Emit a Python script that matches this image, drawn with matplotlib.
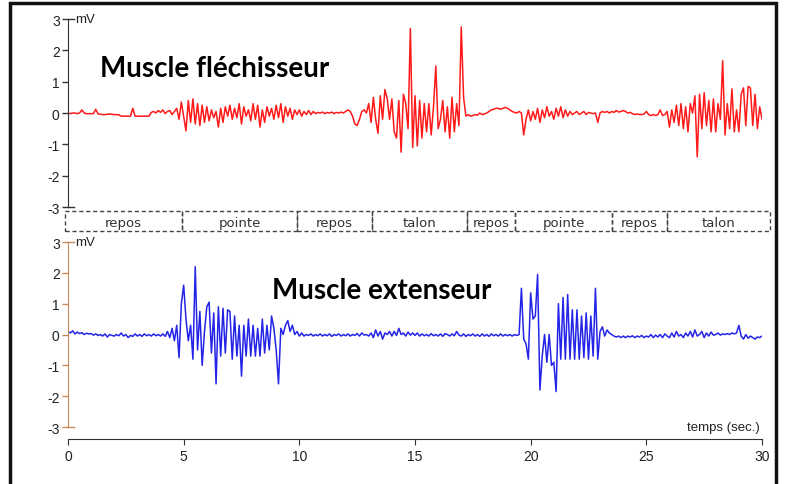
import matplotlib
matplotlib.use('Agg')
import matplotlib.pyplot as plt
import numpy as np
from matplotlib.patches import Rectangle

# signaux EMG, un point tous les 0.1 s (0 a 30 s), en mV
flechisseur = [
    0, -0.02, 0, 0, -0.02, 0, 0.1, 0, -0.02, -0.02,
    -0.02, -0.02, 0.12, -0.03, -0.04, -0.05, -0.05, -0.04, -0.03, -0.04,
    -0.05, -0.05, -0.06, -0.1, -0.1, -0.1, -0.1, -0.1, 0.15, -0.1,
    -0.1, -0.1, -0.1, -0.1, -0.1, -0.1, 0.02, 0.05, 0.0, 0.08,
    0.02, 0.1, -0.02, 0.05, 0.08, -0.05, 0.05, 0.15, -0.2, 0.35,
    -0.1, -0.57, 0.4, -0.3, 0.45, -0.35, 0.3, -0.4, 0.25, -0.3,
    0.2, -0.25, 0.1, -0.15, 0.05, -0.45, 0.15, -0.3, 0.2, -0.1,
    0.25, -0.2, 0.15, -0.15, 0.3, -0.35, 0.2, -0.1, 0.1, -0.25,
    0.3, -0.2, 0.25, -0.45, 0.1, -0.3, 0.2, -0.1, 0.15, -0.2,
    0.25, -0.15, 0.3, -0.3, 0.2, -0.1, 0.15, -0.2, 0.1, -0.05,
    0.1, -0.1, 0.05, -0.05, 0.08, -0.05, 0.05, -0.02, 0.02, 0.0,
    0.03, -0.02, 0.02, 0.0, 0.03, -0.02, 0.02, 0.0, 0.03, 0.0,
    0.05, 0.1, 0.05, -0.1, -0.35, -0.4, -0.2, 0.05, 0.1, 0.0,
    0.3, -0.3, 0.5, -0.2, -0.65, 0.55, -0.2, 0.75, 0.45, -0.2,
    0.45, -0.6, -0.8, 0.4, -1.25, 0.6, 0.3, -0.5, 2.7, -1.1,
    0.55, -1.05, 0.4, -0.8, 0.3, -0.6, 0.3, -0.7, 0.2, 1.5,
    -0.5, -0.2, 0.4, -0.6, 0.2, -0.8, 0.5, -0.6, 0.3, -0.4,
    2.75, 0.5, -0.1, -0.05, -0.1, -0.08, -0.05, -0.07, 0.0, -0.05,
    -0.03, 0.0, 0.05, 0.1, 0.12, 0.15, 0.15, 0.12, 0.15, 0.18,
    0.15, 0.1, 0.05, 0.02, 0.0, 0.05, 0.0, -0.7, -0.2, 0.1,
    -0.25, 0.05, -0.2, 0.15, -0.3, 0.1, -0.15, 0.2, -0.1, 0.05,
    -0.2, 0.15, -0.1, 0.2, -0.15, 0.1, -0.1, 0.05, -0.05, 0.0,
    0.05, -0.05, 0.0, 0.05, -0.05, 0.02, 0.0, -0.02, 0.0, -0.3,
    0.0, 0.05, 0.02, 0.05, 0.0, 0.05, 0.02, 0.08, 0.03, 0.05,
    0.08, 0.05, 0.0, 0.02, -0.02, -0.05, -0.03, -0.05, -0.05, -0.03,
    0.05, -0.05, -0.08, -0.05, -0.08, -0.05, 0.1, -0.08, -0.05, 0.05,
    -0.45, 0.1, -0.3, 0.25, -0.4, 0.3, -0.5, 0.2, -0.6, 0.3,
    0.0, 0.55, -1.4, 0.6, -0.5, 0.65, -0.4, 0.4, -0.6, 0.45,
    -0.6, 0.3, -0.2, 1.67, -0.7, 0.3, -0.5, 0.77, -0.6, 0.1,
    -0.6, 0.6, 0.8, -0.4, 0.85, 0.8, -0.4, 0.6, -0.5, 0.2,
    -0.2]

extenseur = [
    0.1, 0.05, 0.12, 0.02, 0.08, 0.03, 0.06, 0.0, 0.04, 0.02,
    0.03, -0.02, 0.02, -0.03, 0.0, -0.05, 0.02, -0.08, 0.0, -0.03,
    -0.05, 0.0, -0.04, 0.05, -0.05, 0.0, -0.1, -0.03, -0.06, 0.02,
    -0.05, 0.0, -0.06, 0.02, -0.04, 0.0, -0.05, 0.02, -0.04, 0.0,
    -0.05, 0.02, -0.06, 0.1, -0.1, 0.2, -0.2, 0.3, -0.75, 1.0,
    1.6, 0.5, -0.2, 0.3, -0.8, 2.2, -0.5, 0.75, -1.0, 0.1,
    0.9, 1.05, -0.6, 0.7, -1.6, 0.9, -0.7, 0.85, -0.6, 0.8,
    0.75, -0.8, 0.6, -0.7, 0.3, -1.35, 0.3, -0.7, 0.5, -0.7,
    0.3, -0.7, 0.2, -0.7, 0.5, -0.6, 0.3, -0.5, 0.6, 0.2,
    -0.5, -1.6, 0.2, 0.0, 0.3, 0.45, 0.1, 0.3, 0.0, 0.1,
    -0.05, 0.05, -0.05, 0.0, -0.03, 0.02, -0.05, 0.0, -0.04, 0.02,
    -0.05, 0.0, -0.04, 0.02, -0.06, 0.0, -0.03, 0.02, -0.05, 0.0,
    -0.04, 0.02, -0.05, 0.0, -0.03, 0.03, -0.05, 0.05, -0.02, 0.0,
    -0.05, 0.05, -0.1, 0.15, -0.05, 0.1, -0.15, 0.05, 0.0, 0.1,
    -0.05, 0.1, -0.03, 0.2, 0.0, 0.05, -0.05, 0.08, -0.02, 0.05,
    -0.03, 0.05, -0.05, 0.02, -0.04, 0.0, -0.05, 0.03, -0.04, 0.0,
    -0.05, 0.02, -0.06, 0.03, 0.0, -0.05, 0.02, -0.04, 0.1, -0.02,
    -0.05, 0.02, -0.06, 0.0, -0.04, 0.02, -0.05, 0.0, -0.06, 0.02,
    -0.05, 0.0, -0.06, 0.02, -0.04, 0.0, -0.05, 0.02, -0.05, 0.0,
    -0.04, 0.0, -0.05, 0.0, -0.03, 0.0, 1.5, -0.15, -0.3, -0.8,
    1.35, 0.5, 0.6, 1.95, -1.8, -0.7, 0.0, -0.9, 0.0, -1.0,
    -0.9, -1.85, 1.0, -0.8, 1.2, -0.8, 1.3, -0.8, 0.8, -0.8,
    0.8, -0.8, 0.6, -0.75, 0.7, -0.8, 0.6, -0.7, 1.5, -0.8,
    0.1, 0.25, -0.05, 0.15, 0.05, 0.0, -0.05, -0.08, -0.05, -0.1,
    -0.05, -0.1, -0.05, -0.08, -0.04, -0.1, -0.05, -0.08, -0.03, -0.1,
    -0.05, -0.08, 0.0, -0.1, -0.02, -0.08, 0.0, -0.1, 0.02, -0.05,
    -0.1, 0.05, -0.08, 0.1, -0.05, 0.0, -0.1, 0.05, -0.05, 0.1,
    -0.08, 0.15, -0.05, 0.0, 0.1, -0.1, 0.05, -0.05, 0.08, -0.02,
    0.0, 0.05, -0.02, 0.02, 0.0, 0.03, 0.0, 0.05, 0.02, 0.05,
    0.3, -0.05, -0.15, 0.0, -0.12, -0.05, -0.1, -0.15, -0.08, -0.1,
    -0.05]

# phases du mouvement (bornes en secondes)
phases = ['repos', 'pointe', 'repos', 'talon', 'repos', 'pointe', 'repos', 'talon']
bornes = [-0.13, 4.93, 9.9, 13.14, 17.25, 19.33, 23.52, 25.9, 30.35]

t = np.linspace(0, 30, len(flechisseur))

fig = plt.figure(figsize=(8, 4.85), dpi=100)
ax1 = fig.add_axes([0.085, 0.5711, 0.8675, 0.3876])
ax2 = fig.add_axes([0.085, 0.1175, 0.8675, 0.3814])
axp = fig.add_axes([0.085, 0.5216, 0.8675, 0.0412])

tick_font = {'family': 'Liberation Sans', 'size': 10}

for ax, col in [(ax1, '#333333'), (ax2, '#c8885a')]:
    ax.set_xlim(0, 30)
    ax.set_ylim(-3, 3)
    ax.spines['top'].set_visible(False)
    ax.spines['right'].set_visible(False)
    ax.spines['left'].set_color(col)
    ax.tick_params(axis='y', colors=col, labelcolor='#222222', length=4, width=1, pad=2)
    ax.set_yticks([-3, -2, -1, 0, 1, 2, 3])
    ax.set_yticklabels([str(v) for v in [-3, -2, -1, 0, 1, 2, 3]], fontdict=tick_font)
    ax.plot([0, 0.25], [3, 3], color=col, lw=1, clip_on=False)
    ax.plot([0, 0.25], [-3, -3], color=col, lw=1, clip_on=False)
    ax.text(0.3, 3, 'mV', fontsize=9.5, family='Liberation Sans', va='center', ha='left', color='#222222')

ax1.spines['bottom'].set_visible(False)
ax1.set_xticks([])

ax2.spines['bottom'].set_position(('outward', 8.6))
ax2.spines['bottom'].set_color('#333333')
ax2.set_xticks([0, 5, 10, 15, 20, 25, 30])
ax2.set_xticklabels(['0', '5', '10', '15', '20', '25', '30'], fontdict=tick_font)
ax2.tick_params(axis='x', length=4, colors='#333333', labelcolor='#222222')
ax2.text(29.9, -3, 'temps (sec.)', ha='right', va='center', fontsize=9.5, family='Liberation Sans', color='#222222')

ax1.plot(t, flechisseur, color='#ff1a1a', lw=1.1)
ax2.plot(t, extenseur, color='#2424e8', lw=1.1)

ax1.text(1.4, 1.45, 'Muscle fléchisseur', fontsize=20, fontweight='bold', family='Lato', va='center', ha='left')
ax2.text(8.8, 1.45, 'Muscle extenseur', fontsize=20, fontweight='bold', family='Lato', va='center', ha='left')

axp.set_xlim(0, 30)
axp.set_ylim(0, 1)
axp.axis('off')
for i, nom in enumerate(phases):
    x0, x1 = bornes[i], bornes[i + 1]
    axp.add_patch(Rectangle((x0, 0), x1 - x0, 1, fill=False, ls=(0, (3, 2)), ec='#444444', lw=1, clip_on=False))
    axp.text((x0 + x1) / 2, 0.45, nom, ha='center', va='center', fontsize=9.5, family='DejaVu Sans', color='#333333')

fig.add_artist(Rectangle((0.0125, -0.05), 0.958, 1.0418, transform=fig.transFigure, fill=False, lw=2.5, ec='#111111'))

fig.savefig('out.png', dpi=100)
